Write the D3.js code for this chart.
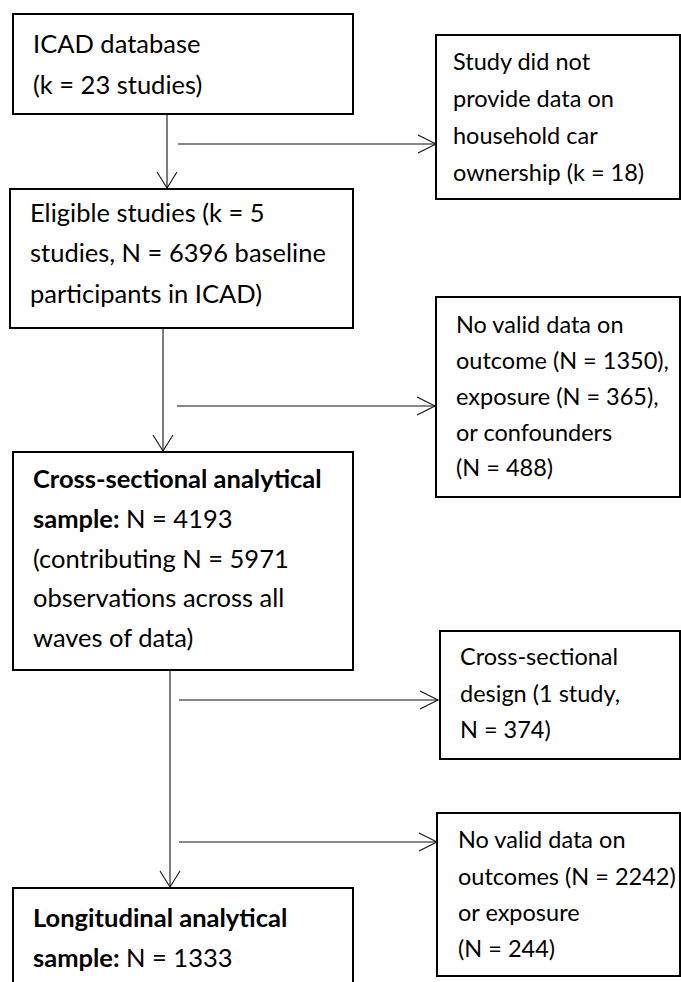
<!DOCTYPE html>
<html><head><meta charset="utf-8">
<script src="https://cdn.jsdelivr.net/npm/d3@7"></script>
<style>html,body{margin:0;padding:0;background:#fff;overflow:hidden}</style>
</head><body>
<script>
// ---- data: flow steps (segments: [text, bold]) ----
const mainSteps = [
  [[["ICAD database", false]], [["(k = 23 studies)", false]]],
  [[["Eligible studies (k = 5", false]], [["studies, N = 6396 baseline", false]], [["participants in ICAD)", false]]],
  [[["Cross-sectional analytical", true]], [["sample:", true], [" N = 4193", false]], [["(contributing N = 5971", false]], [["observations across all", false]], [["waves of data)", false]]],
  [[["Longitudinal analytical", true]], [["sample:", true], [" N = 1333", false]]]
];
const exclusions = [
  ["Study did not", "provide data on", "household car", "ownership (k = 18)"],
  ["No valid data on", "outcome (N = 1350),", "exposure (N = 365),", "or confounders", "(N = 488)"],
  ["Cross-sectional", "design (1 study,", "N = 374)"],
  ["No valid data on", "outcomes (N = 2242)", "or exposure", "(N = 244)"]
];

// ---- layout ----
const W = 681, H = 982;
const mainLayout = [
  {x0: 13, x1: 353, y0: 14, y1: 114, tx: 33, ty: 44, dy: 41},
  {x0: 10, x1: 353, y0: 189, y1: 328, tx: 30, ty: 213, dy: 40.5},
  {x0: 13, x1: 353, y0: 452, y1: 670, tx: 33, ty: 479, dy: 39.8},
  {x0: 13, x1: 353, y0: 888, y1: 1010, tx: 33, ty: 918, dy: 40}
];
const exclLayout = [
  {x0: 436, x1: 680, y0: 35, y1: 199, tx: 453, ty: 62, dy: 37},
  {x0: 436, x1: 680, y0: 297, y1: 497, tx: 456, ty: 325, dy: 35.8},
  {x0: 440, x1: 680, y0: 631, y1: 759, tx: 460, ty: 657, dy: 36.5},
  {x0: 437, x1: 680, y0: 813, y1: 976, tx: 458, ty: 840, dy: 36.3}
];
const vLinks = [ {x: 167, y0: 114, y1: 188}, {x: 163, y0: 328, y1: 451}, {x: 170, y0: 670, y1: 887} ];
const hLinks = [ {y: 144, x0: 178, x1: 436}, {y: 406, x0: 177, x1: 435}, {y: 700, x0: 179, x1: 438}, {y: 842, x0: 179, x1: 437} ];

const FONT = "Lato, 'Open Sans', sans-serif";
const FS_MAIN = 25.5, FS_EXCL = 23.5;

const svg = d3.select("body").append("svg").attr("width", W).attr("height", H);

function drawBox(layout, lines, isSeg, fs) {
  const g = svg.append("g");
  g.append("rect").attr("x", layout.x0).attr("y", layout.y0)
    .attr("width", layout.x1 - layout.x0).attr("height", layout.y1 - layout.y0)
    .attr("fill", "#fff").attr("stroke", "#000").attr("stroke-width", 2);
  lines.forEach((ln, i) => {
    const t = g.append("text").attr("x", layout.tx).attr("y", layout.ty + i * layout.dy + fs * 0.35)
      .attr("font-family", FONT).attr("font-size", fs).attr("fill", "#000")
      .style("white-space", "pre");
    const segs = isSeg ? ln : [[ln, false]];
    segs.forEach(s => t.append("tspan").attr("font-weight", s[1] ? "bold" : "normal").text(s[0]));
  });
}

const linkG = svg.append("g").attr("stroke", "#111").attr("stroke-width", 1.1).attr("fill", "none");
vLinks.forEach(l => {
  linkG.append("line").attr("x1", l.x).attr("x2", l.x).attr("y1", l.y0).attr("y2", l.y1);
  linkG.append("path").attr("d", d3.line()([[l.x - 10, l.y1 - 16], [l.x, l.y1], [l.x + 10, l.y1 - 16]]));
});
hLinks.forEach(l => {
  linkG.append("line").attr("x1", l.x0).attr("x2", l.x1).attr("y1", l.y).attr("y2", l.y);
  linkG.append("path").attr("d", d3.line()([[l.x1 - 18, l.y - 9], [l.x1, l.y], [l.x1 - 18, l.y + 9]]));
});

mainSteps.forEach((lines, i) => drawBox(mainLayout[i], lines, true, FS_MAIN));
exclusions.forEach((lines, i) => drawBox(exclLayout[i], lines, false, FS_EXCL));
</script>
</body></html>
